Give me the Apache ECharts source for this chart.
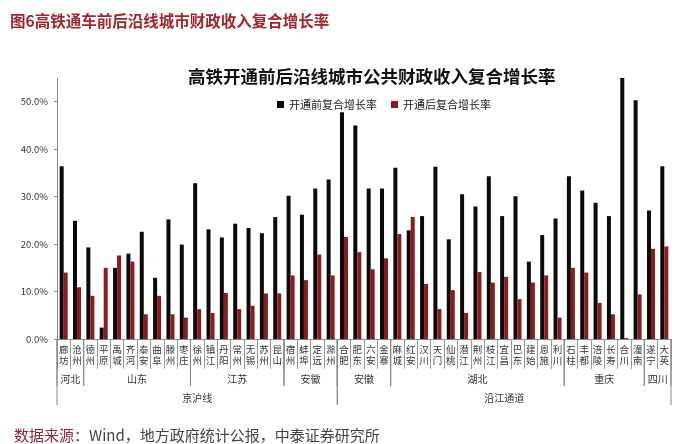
<!DOCTYPE html>
<html>
<head>
<meta charset="utf-8">
<script src="https://cdn.jsdelivr.net/npm/echarts@6/dist/echarts.min.js"></script>
<style>
html,body{margin:0;padding:0;background:#fff;}
#chart{width:700px;height:444px;}
</style>
</head>
<body>
<div id="chart"></div>
<script>
const cities = ['廊坊','沧州','德州','平原','禹城','齐河','泰安','曲阜','滕州','枣庄','徐州','镇江','丹阳','常州','无锡','苏州','昆山','宿州','蚌埠','定远','滁州','合肥','肥东','六安','金寨','麻城','红安','汉川','天门','仙桃','潜江','荆州','枝江','宜昌','巴东','建始','恩施','利川','石柱','丰都','涪陵','长寿','合川','潼南','遂宁','大英'];
const before = [36.4,24.9,19.3,2.4,15.0,18.0,22.6,12.9,25.2,19.9,32.8,23.1,21.4,24.3,23.4,22.3,25.7,30.2,26.2,31.7,33.6,47.8,45.0,31.7,31.7,36.1,22.9,25.9,36.3,21.0,30.5,27.9,34.3,25.9,30.1,16.3,21.9,25.4,34.3,31.3,28.7,25.9,55.0,50.3,27.1,36.4];
const after = [14.0,10.9,9.1,15.0,17.6,16.3,5.2,9.1,5.2,4.5,6.3,5.5,9.7,6.3,7.0,9.6,9.6,13.4,12.4,17.8,13.4,21.5,18.3,14.7,17.0,22.1,25.7,11.6,6.3,10.3,5.5,14.1,11.9,13.1,8.4,11.9,13.4,4.5,15.0,14.0,7.6,5.2,0.2,9.4,19.0,19.5];
const yTicks = [0,10,20,30,40,50];
const provinceNames = ['河北','山东','江苏','安徽','安徽','湖北','重庆','四川'];
const provinceStart = [0,2,10,17,21,25,38,44];
const provinceCount = [2,8,7,4,4,13,6,2];
const lineNames = ['京沪线','沿江通道'];
const lineStart = [0,21];
const lineCount = [21,25];
const seriesNames = ['开通前复合增长率','开通后复合增长率'];

const groupData = [];
const groupNames = [];
provinceNames.forEach((n,i)=>{ groupData.push([provinceStart[i],0,provinceCount[i],0]); groupNames.push(n); });
lineNames.forEach((n,i)=>{ groupData.push([lineStart[i],0,lineCount[i],1]); groupNames.push(n); });

const FONT = '"Noto Sans CJK SC", "Noto Sans", sans-serif';
const chart = echarts.init(document.getElementById('chart'));
chart.setOption({
  animation:false,
  backgroundColor:'#fff',
  textStyle:{fontFamily:FONT},
  title:[
    {text:'图6高铁通车前后沿线城市财政收入复合增长率',left:5,top:8,
     textStyle:{color:'#a3262c',fontSize:15.5,fontWeight:'bold',fontFamily:FONT}},
    {text:'高铁开通前后沿线城市公共财政收入复合增长率',left:183,top:63,
     textStyle:{color:'#111',fontSize:17.5,fontWeight:'bold',fontFamily:FONT}},
    {text:'{a|数据来源：}{b|Wind，地方政府统计公报，中泰证券研究所}',left:9,top:423,
     textStyle:{fontWeight:'normal',rich:{
       a:{color:'#8b2b3a',fontSize:15,fontWeight:'normal',fontFamily:FONT},
       b:{color:'#444',fontSize:15,fontWeight:'normal',fontFamily:FONT}}}}
  ],
  legend:{
    data:seriesNames,left:272,top:94,itemWidth:7,itemHeight:7,itemGap:14,icon:'rect',
    textStyle:{fontSize:11,color:'#222',fontFamily:FONT}
  },
  grid:{left:57,right:29,top:78,bottom:105,containLabel:false},
  xAxis:{
    type:'category',data:cities,
    axisLine:{lineStyle:{color:'#888',width:1}},
    axisTick:{show:true,interval:0,alignWithLabel:false,length:30,lineStyle:{color:'#999'}},
    axisLabel:{interval:0,fontSize:9.5,lineHeight:11,color:'#333',margin:5,
      formatter:v=>v.split('').join('\n')}
  },
  yAxis:{
    type:'value',min:0,max:55,interval:10,
    splitLine:{show:false},
    axisLine:{show:true,lineStyle:{color:'#888'}},
    axisTick:{show:true,length:3,customValues:yTicks,lineStyle:{color:'#888'}},
    axisLabel:{fontSize:9.5,color:'#333',margin:9,customValues:yTicks,formatter:v=>v.toFixed(1)+'%'}
  },
  series:[
    {name:seriesNames[0],type:'bar',data:before,barGap:'0%',barCategoryGap:'40%',
     itemStyle:{color:'#0a0a0a'}},
    {name:seriesNames[1],type:'bar',data:after,barGap:'0%',barCategoryGap:'40%',
     itemStyle:{color:'#8c1b1e'}},
    {type:'custom',clip:false,silent:true,data:groupData,
     encode:{x:0,y:1},
     renderItem:function(params,api){
       const start=api.value(0), count=api.value(2), level=api.value(3);
       const bw=api.size([1,0])[0];
       const x0=api.coord([start,0])[0]-bw/2;
       const x1=x0+count*bw;
       const y0=api.coord([start,0])[1];
       const len = level===0?47:66;
       const ty = level===0?40:59;
       const ls={stroke:'#888',lineWidth:1};
       return {type:'group',children:[
         {type:'line',shape:{x1:x0,y1:y0,x2:x0,y2:y0+len},style:ls},
         {type:'line',shape:{x1:x1,y1:y0,x2:x1,y2:y0+len},style:ls},
         {type:'text',x:(x0+x1)/2,y:y0+ty,style:{text:groupNames[params.dataIndex],
           fill:'#333',fontSize:10,fontFamily:FONT,align:'center',verticalAlign:'middle'}}
       ]};
     }}
  ]
});
</script>
</body>
</html>
